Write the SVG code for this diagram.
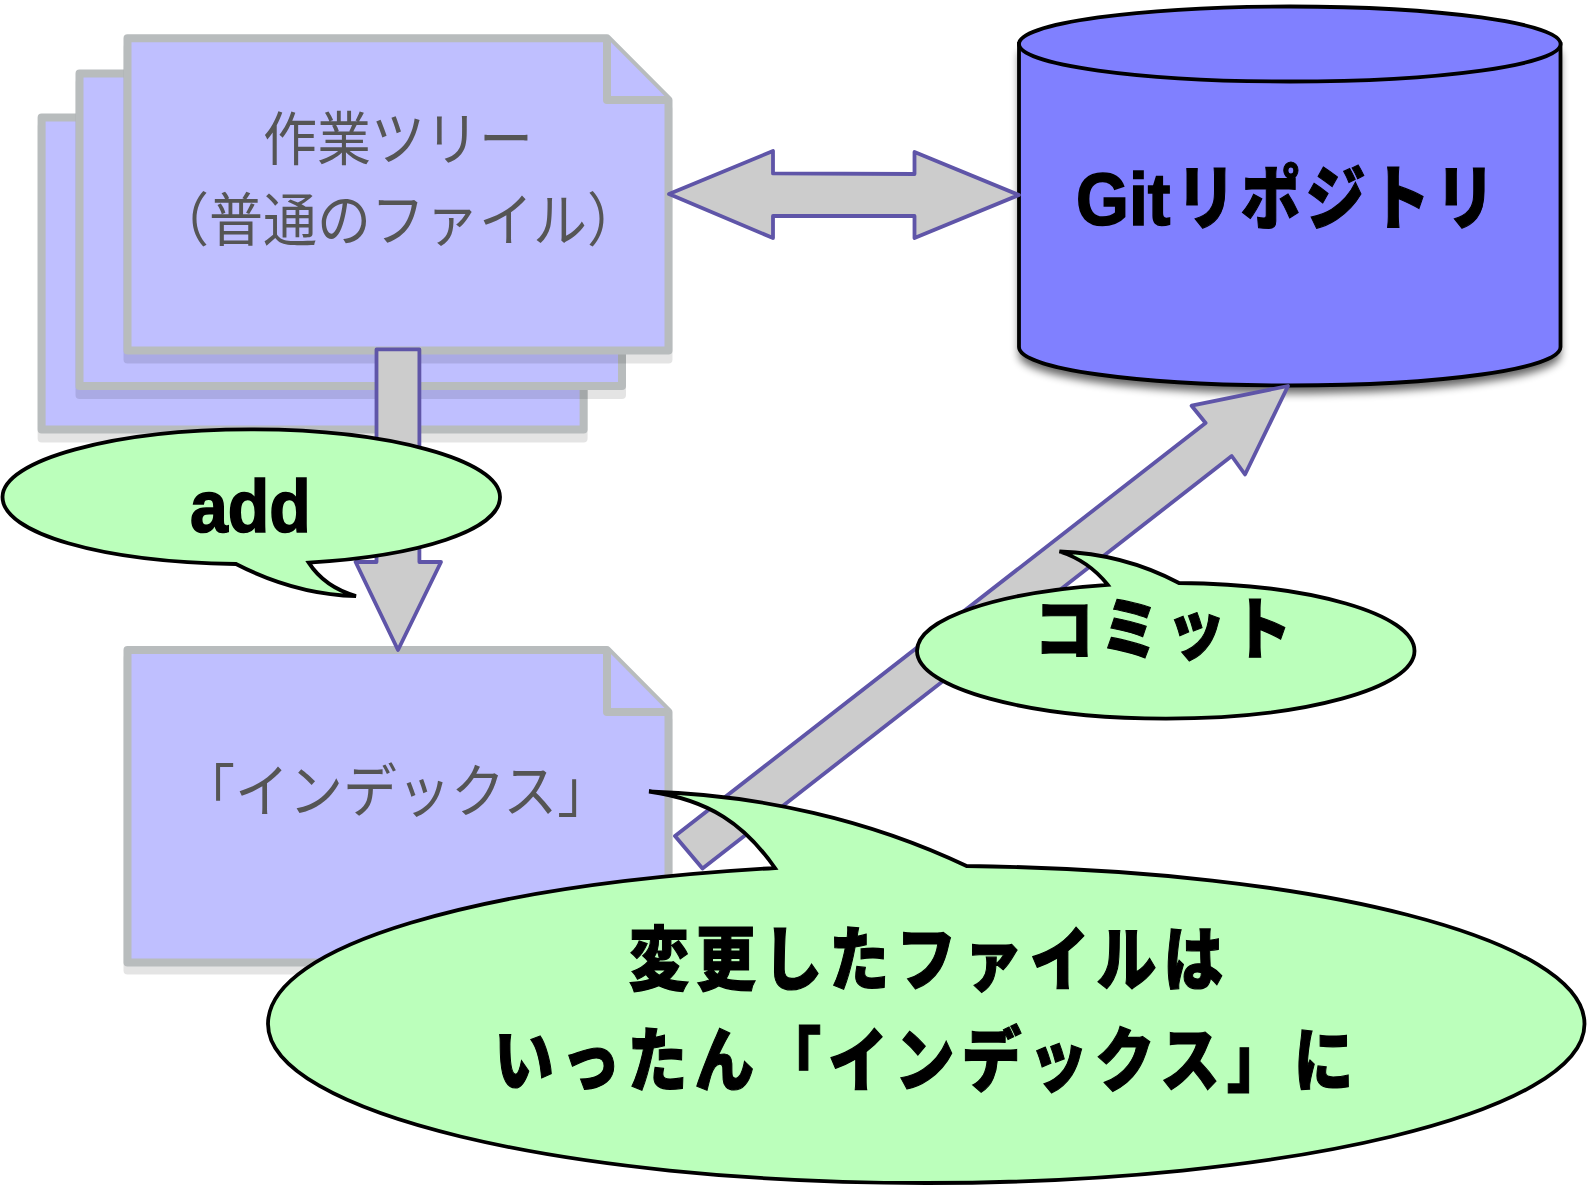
<svg xmlns="http://www.w3.org/2000/svg" width="1587" height="1185" viewBox="0 0 1587 1185">
<defs>
<filter id="cylShadow" x="-10%" y="-10%" width="120%" height="125%"><feGaussianBlur stdDeviation="4"/></filter>
</defs>
<style>
.doc{fill:#bfbfff;stroke:#b8bcbd;stroke-width:8;stroke-linejoin:round}
.shadow{fill:#000;stroke:#000;stroke-width:8;stroke-linejoin:round;opacity:.1}
.arrow{fill:#cccccc;stroke:#5f55a8;stroke-width:3.8;stroke-linejoin:round}
.bubble{fill:#bbffbb;stroke:#000;stroke-width:3.8;stroke-linejoin:miter}
.doctext{font-family:"Noto Sans CJK JP","Liberation Sans",sans-serif;font-size:54px;font-weight:400;fill:#555555}
.latin{font-family:"Liberation Sans","Noto Sans CJK JP",sans-serif;font-size:68px;font-weight:700;fill:#000;stroke:#000;stroke-width:1.500}
.kana{font-family:"Noto Sans CJK JP","Liberation Sans",sans-serif;font-size:60px;font-weight:900;fill:#000;stroke:#000;stroke-width:1;letter-spacing:6.800px}
</style>
<rect width="1587" height="1185" fill="#fff"/>
<g id="doc-back">
<rect class="shadow" x="41.600" y="126.500" width="542" height="312"/>
<rect class="doc" x="41.600" y="117.500" width="542" height="312"/>
</g>
<g id="doc-middle">
<rect class="shadow" x="79.500" y="82.500" width="542.500" height="312.500"/>
<rect class="doc" x="79.500" y="73.500" width="542.500" height="312.500"/>
</g>
<g id="doc-worktree">
<path class="shadow" transform="translate(0 9)" d="M127.500 38.300H607L668.500 100V350.500H127.500Z"/>
<path class="doc" d="M127.500 38.300H607L668.500 100V350.500H127.500Z"/>
<path class="doc" d="M607 38.300V100H668.500" fill="none"/>
<text class="doctext" transform="translate(263 160) scale(1 1.08)">作業ツリー</text>
<text class="doctext" transform="translate(155 241) scale(1 1.08)">（普通のファイル）</text>
</g>
<g id="doc-index">
<path class="shadow" transform="translate(0 8)" d="M127.500 650H607L668.500 712V962.500H127.500Z"/>
<path class="doc" d="M127.500 650H607L668.500 712V962.500H127.500Z"/>
<path class="doc" d="M607 650V712H668.500" fill="none"/>
<text class="doctext" transform="translate(181 812) scale(1 1.08)">「インデックス」</text>
</g>
<g id="cylinder">
<path d="M1019 44V347C1019 369 1140 385.500 1290 385.500S1560.500 369 1560.500 347V44Z" filter="url(#cylShadow)" fill="#000" opacity=".6" transform="translate(0 8)"/>
<path d="M1019 44V347C1019 369 1140 385.500 1290 385.500S1560.500 369 1560.500 347V44Z" fill="#8080ff" stroke="#000" stroke-width="3.800"/>
<ellipse cx="1289.800" cy="44" rx="270.800" ry="37.500" fill="#8080ff" stroke="#000" stroke-width="3.800"/>
<text class="latin" transform="translate(1076 225) scale(1 1.09)">Git</text>
<text class="kana" style="letter-spacing:4.800px" transform="translate(1176 224) scale(1 1.18)">リポジトリ</text>
</g>
<g id="connectors">
<path class="arrow" d="M669 194L773 151V173.400L914.500 174V152L1019 195L914.500 238V216L773 216V238Z"/>
<path class="arrow" d="M376.500 349.400H419.400V562H441L398 650L355.600 562H376.500Z"/>
<path class="arrow" d="M1288 386L1245 474.500L1231.700 456L702.500 868.500L675 836L1205.600 423L1191.600 405.700Z"/>
</g>
<g id="bubble-add">
<path class="bubble" d="M236 564C100 562 2.500 533 2.500 497C2.500 460 114 429.400 251 429.400S500 460 500 497C500 530 420 556 308.700 562.600C320 580 335 590 356 596C315 595 275 584 236 564Z"/>
<text class="latin" transform="translate(190 532) scale(1 1.09)">add</text>
</g>
<g id="bubble-commit">
<path class="bubble" d="M1107.700 584.800C1000 592 917 618 917 651C917 688 1028 718.600 1166 718.600S1414.500 688 1414.500 651C1414.500 614 1310 584 1179 583C1145 565 1105 553 1059.500 551.500C1080 558 1096 570 1107.700 584.800Z"/>
<text class="kana" style="letter-spacing:6px" transform="translate(1034 654) scale(1 1.14)">コミット</text>
</g>
<g id="bubble-note">
<path class="bubble" d="M775 868C480 885 268 945 268 1024C268 1112 562 1183 926 1183S1584.500 1112 1584.500 1024C1584.500 940 1320 870 966.600 866C870 820 760 795 649 791.500C710 800 745 825 775 868Z"/>
<text class="kana" transform="translate(629 985) scale(1 1.17)">変更したファイルは</text>
<text class="kana" transform="translate(494 1086) scale(1 1.17)">いったん「インデックス」に</text>
</g>
</svg>
